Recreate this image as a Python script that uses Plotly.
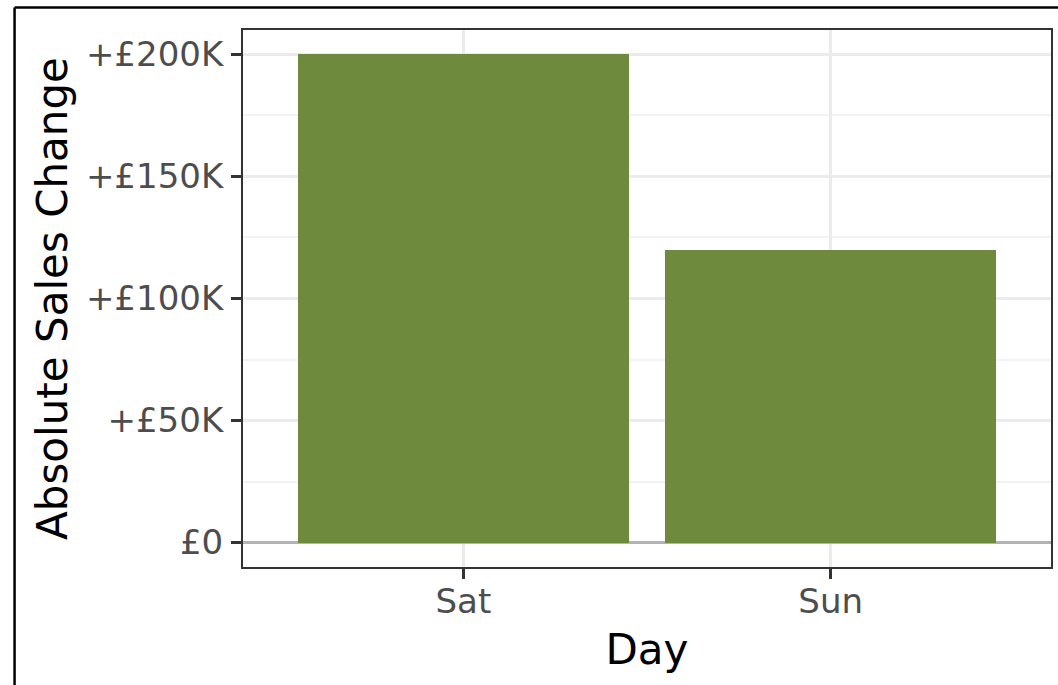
import plotly.graph_objects as go

# Weekend sales uplift by day
days = ["Sat", "Sun"]
sales_change = [200000, 120000]

y_tick_values = [0, 50000, 100000, 150000, 200000]
y_tick_labels = ["£0", "+£50K", "+£100K", "+£150K", "+£200K"]

W, H = 1058, 685
L, T, R, B = 243, 30, 5, 118
pw, ph = W - L - R, H - T - B


def px_x(p):
    return (p - L) / pw


def px_y(p):
    return (H - B - p) / ph


fig = go.Figure(
    go.Bar(
        x=days,
        y=sales_change,
        width=0.9,
        marker=dict(color="#6E8B3D", line=dict(width=0)),
        hoverinfo="x+y",
    )
)

font_family = "DejaVu Sans"
tick_size = 34
title_size = 42

fig.update_layout(
    width=W,
    height=H,
    margin=dict(l=L, r=R, t=T, b=B, pad=0),
    paper_bgcolor="white",
    plot_bgcolor="white",
    showlegend=False,
    bargap=0,
    font=dict(family=font_family, color="#4D4D4D"),
    xaxis=dict(
        range=[-0.6, 1.6],
        showgrid=True,
        gridcolor="#EBEBEB",
        gridwidth=2.5,
        showline=True,
        mirror=True,
        linecolor="#333333",
        linewidth=2,
        ticks="outside",
        ticklen=10,
        tickwidth=2.5,
        tickcolor="#333333",
        ticklabelstandoff=-7,
        tickfont=dict(size=tick_size, color="#4D4D4D", family=font_family),
        title=dict(text="Day", font=dict(size=title_size, color="black", family=font_family), standoff=15),
        zeroline=False,
        fixedrange=True,
    ),
    yaxis=dict(
        range=[-10000, 210000],
        tickvals=y_tick_values,
        ticktext=y_tick_labels,
        showgrid=True,
        gridcolor="#EBEBEB",
        gridwidth=2.5,
        minor=dict(dtick=25000, tick0=0, showgrid=True, gridcolor="#F2F2F2", gridwidth=1.5, ticks=""),
        showline=True,
        mirror=True,
        linecolor="#333333",
        linewidth=2,
        ticks="outside",
        ticklen=10,
        tickwidth=2.5,
        tickcolor="#333333",
        ticklabelstandoff=1,
        tickfont=dict(size=tick_size, color="#4D4D4D", family=font_family),
        title=dict(text="Absolute Sales Change", font=dict(size=title_size, color="black", family=font_family), standoff=5),
        zeroline=True,
        zerolinecolor="#B3B3B3",
        zerolinewidth=2.5,
        fixedrange=True,
    ),
    shapes=[
        # outer frame (top and left edges)
        dict(type="line", xref="paper", yref="paper",
             x0=px_x(14), x1=px_x(W + 5), y0=px_y(7.5), y1=px_y(7.5),
             line=dict(color="black", width=2.5)),
        dict(type="line", xref="paper", yref="paper",
             x0=px_x(14), x1=px_x(14), y0=px_y(7.5), y1=px_y(H + 5),
             line=dict(color="black", width=2.5)),
    ],
)

fig.write_html("out.html")
